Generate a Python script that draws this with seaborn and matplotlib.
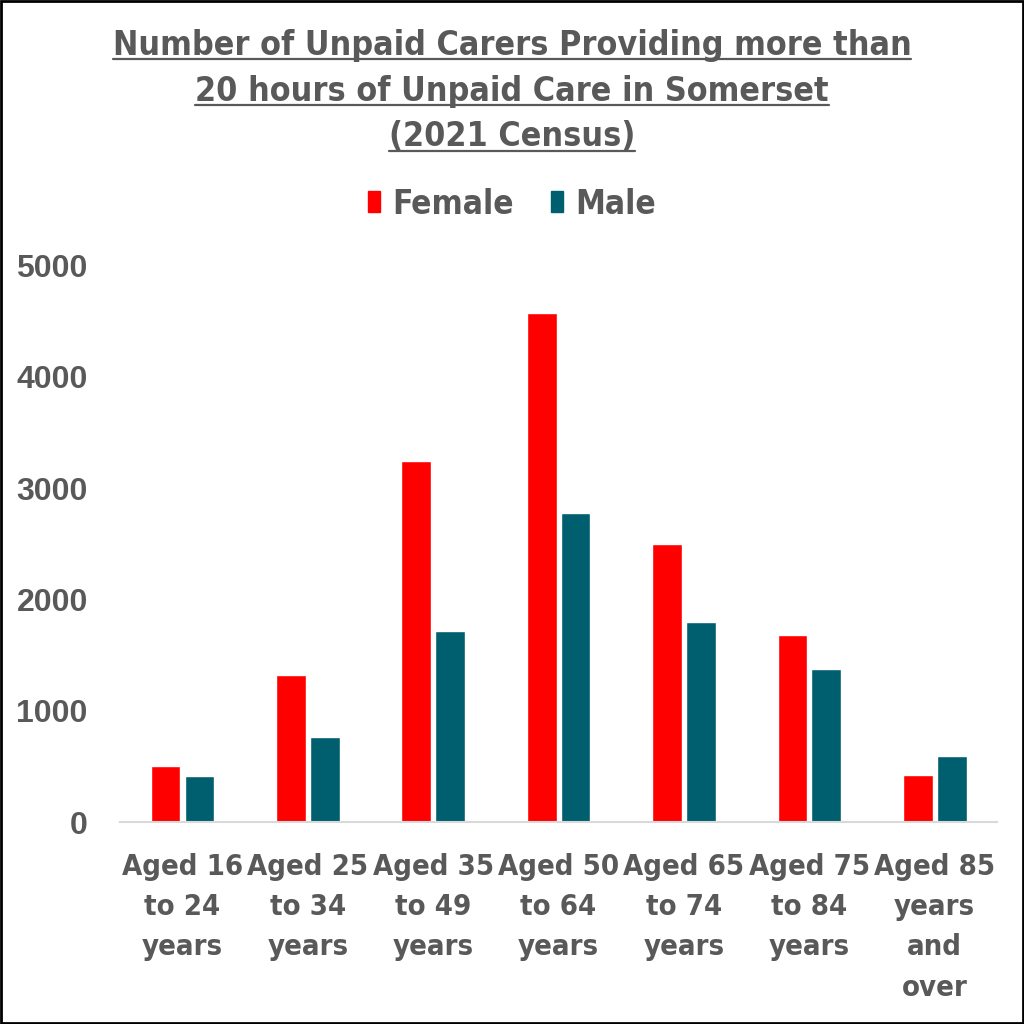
import matplotlib.pyplot as plt
import matplotlib.patches as mpatches
from matplotlib.lines import Line2D
import pandas as pd
import seaborn as sns

# --- data
age_groups = ['Aged 16\nto 24\nyears', 'Aged 25\nto 34\nyears', 'Aged 35\nto 49\nyears',
              'Aged 50\nto 64\nyears', 'Aged 65\nto 74\nyears', 'Aged 75\nto 84\nyears',
              'Aged 85\nyears\nand\nover']
female = [503, 1320, 3240, 4569, 2495, 1679, 422]
male = [413, 763, 1715, 2774, 1795, 1373, 592]
title_lines = ['Number of Unpaid Carers Providing more than',
               '20 hours of Unpaid Care in Somerset',
               '(2021 Census)']

df = pd.DataFrame({
    'age': age_groups * 2,
    'sex': ['Female'] * len(age_groups) + ['Male'] * len(age_groups),
    'carers': female + male,
})

sns.set_style('white')
plt.rcParams['font.family'] = ['DejaVu Sans']
grey = '#595959'
colours = {'Female': '#FF0000', 'Male': '#005F6E'}

fig = plt.figure(figsize=(10.24, 10.24), dpi=100)
ax = fig.add_axes([0.117, 0.197, 0.857, 0.544])

sns.barplot(data=df, x='age', y='carers', hue='sex', palette=colours,
            width=0.54, gap=0.12, ax=ax, legend=False, saturation=1)

ax.set_ylim(0, 5000)
ax.set_yticks(range(0, 5001, 1000))
ax.set_xlim(-0.5, len(age_groups) - 0.5)
ax.set_xlabel('')
ax.set_ylabel('')
for s in ['left', 'top', 'right']:
    ax.spines[s].set_visible(False)
ax.spines['bottom'].set_color('#D9D9D9')
ax.spines['bottom'].set_linewidth(1.5)
ax.tick_params(axis='both', length=0)
ax.tick_params(axis='x', pad=22)
ax.tick_params(axis='y', pad=23)

for lab in ax.get_xticklabels():
    lab.set_fontsize(21)
    lab.set_fontweight('bold')
    lab.set_fontstretch('condensed')
    lab.set_color(grey)
    lab.set_linespacing(1.56)
for lab in ax.get_yticklabels():
    lab.set_fontsize(23)
    lab.set_fontweight('bold')
    lab.set_color(grey)
    lab.set_family(['Liberation Sans', 'DejaVu Sans'])

# title, three underlined lines
title_texts = []
for i, line in enumerate(title_lines):
    t = fig.text(0.5, 1 - (45 + i * 46) / 1024, line, ha='center', va='center',
                 fontsize=24.4, fontweight='bold', fontstretch='condensed', color=grey)
    title_texts.append(t)

# legend
handles = [mpatches.Patch(color=colours[k], label=k) for k in ['Female', 'Male']]
leg = fig.legend(handles=handles, loc='center', bbox_to_anchor=(0.5, 1 - 204 / 1024),
                 ncol=2, frameon=False, handlelength=0.36, handleheight=0.58,
                 handletextpad=0.38, columnspacing=1.1,
                 prop={'size': 24, 'weight': 'bold', 'stretch': 'condensed'})
for t in leg.get_texts():
    t.set_color(grey)

fig.canvas.draw()
renderer = fig.canvas.get_renderer()
inv = fig.transFigure.inverted()
for t in title_texts:
    bb = t.get_window_extent(renderer)
    (x0, y0), (x1, y1) = inv.transform([[bb.x0, bb.y0], [bb.x1, bb.y1]])
    fig.add_artist(Line2D([x0, x1], [y0 + 0.002, y0 + 0.002], color=grey,
                          lw=1.6, transform=fig.transFigure))

# border round the picture
fig.add_artist(mpatches.Rectangle((0.001, 0.001), 0.998, 0.998, fill=False,
                                  edgecolor='black', lw=2, transform=fig.transFigure))

fig.savefig('out.png', dpi=100)
